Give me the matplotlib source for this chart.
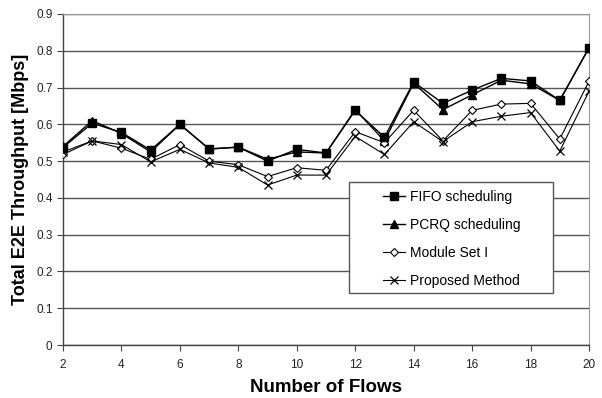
import matplotlib.pyplot as plt
from matplotlib.patches import Rectangle

plt.rcParams["font.family"] = ["Liberation Sans", "DejaVu Sans"]

# number of flows on the x axis
flows = list(range(2, 21))

# end-to-end throughput per scheme [Mbps]
fifo = [0.537, 0.603, 0.578, 0.530, 0.600, 0.533, 0.538, 0.500, 0.532, 0.522,
        0.638, 0.565, 0.715, 0.657, 0.693, 0.725, 0.718, 0.665, 0.808]
pcrq = [0.540, 0.610, 0.575, 0.525, 0.600, 0.533, 0.538, 0.505, 0.525, 0.522,
        0.640, 0.555, 0.712, 0.640, 0.680, 0.720, 0.710, 0.665, 0.808]
module_set = [0.518, 0.555, 0.535, 0.505, 0.545, 0.500, 0.490, 0.458, 0.482, 0.475,
              0.580, 0.550, 0.638, 0.555, 0.638, 0.655, 0.657, 0.560, 0.717]
proposed = [0.525, 0.555, 0.545, 0.498, 0.532, 0.495, 0.483, 0.435, 0.462, 0.462,
            0.567, 0.518, 0.607, 0.553, 0.607, 0.622, 0.632, 0.527, 0.690]

W, H = 602, 398
x0, x1, y0, y1 = 63, 589, 14, 345   # axes box in pixels (top-left origin)

fig = plt.figure(figsize=(W / 100, H / 100), dpi=100)
ax = fig.add_axes([x0 / W, 1 - y1 / H, (x1 - x0) / W, (y1 - y0) / H])

ax.plot(flows, fifo, color="black", lw=1.0, marker="s", ms=6, label="FIFO scheduling", zorder=4)
ax.plot(flows, pcrq, color="black", lw=1.0, marker="^", ms=5.5, label="PCRQ scheduling", zorder=3)
ax.plot(flows, module_set, color="black", lw=0.8, marker="D", ms=4, mfc="white", mew=0.8,
        label="Module Set I", zorder=3)
ax.plot(flows, proposed, color="black", lw=0.8, marker="x", ms=6, mew=0.9,
        label="Proposed Method", zorder=3)

ax.set_xlim(2, 20)
ax.set_ylim(0, 0.9)
ax.set_xticks(range(2, 21, 2))
ax.set_yticks([i / 10 for i in range(10)])
ax.set_yticklabels(["0"] + [f"0.{i}" for i in range(1, 10)])
ax.yaxis.grid(True, color="#555555", lw=1.0)
ax.set_axisbelow(True)

for side in ["top", "right"]:
    ax.spines[side].set_color("#999999")
for side in ["left", "bottom"]:
    ax.spines[side].set_color("#444444")
    ax.spines[side].set_linewidth(1.0)
ax.tick_params(axis="both", labelsize=8.5, color="#444444", length=4, labelcolor="#222222")
ax.tick_params(axis="x", pad=6)

ax.set_xlabel("Number of Flows", fontsize=13.5, fontweight="bold", labelpad=6)
ax.set_ylabel("Total E2E Throughput [Mbps]", fontsize=13, fontweight="bold", labelpad=5)


def to_axes(px, py):
    return (px - x0) / (x1 - x0), (y1 - py) / (y1 - y0)


# legend box drawn separately so the entries can sit indented inside it
bx, by = to_axes(349, 293)
bx2, by2 = to_axes(553, 182)
ax.add_patch(Rectangle((bx, by), bx2 - bx, by2 - by, transform=ax.transAxes,
                       facecolor="white", edgecolor="#555555", lw=1.0, zorder=5))

lx, ly = to_axes(383, 190)
leg = ax.legend(loc="upper left", bbox_to_anchor=(lx, ly), frameon=False, fontsize=10,
                handlelength=1.6, handletextpad=0.35, labelspacing=1.0,
                borderpad=0, borderaxespad=0)
leg.set_zorder(6)

fig.savefig("out.png", dpi=100)
